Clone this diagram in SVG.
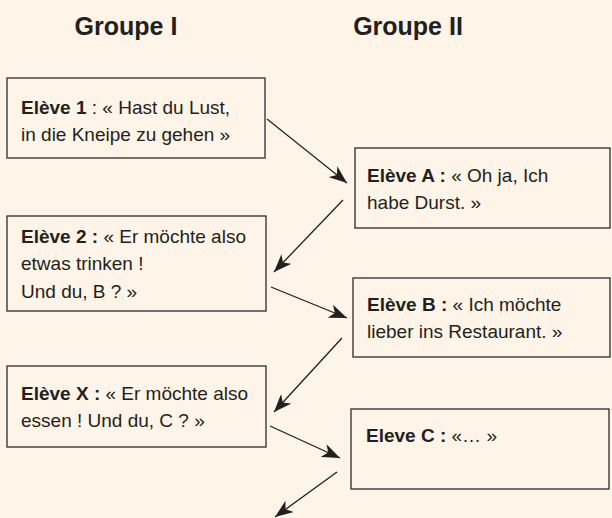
<svg xmlns="http://www.w3.org/2000/svg" width="612" height="518" viewBox="0 0 612 518">
<style>
.bg{fill:#FEF4E7}
.box{fill:none;stroke:#2b2b2b;stroke-width:1.3}
text{font-family:"Liberation Sans",Arial,sans-serif;fill:#231F20}
.t{font-size:19px}
.b{font-weight:bold}
.title{font-size:25px;font-weight:bold;text-anchor:middle}
.con{stroke:#231F20;stroke-width:1.3;fill:none;marker-end:url(#ah)}
</style>
<defs>
<marker id="ah" markerUnits="userSpaceOnUse" markerWidth="20" markerHeight="14" refX="18" refY="7" orient="auto">
<path d="M0,0 L18,7 L0,14 L5,7 Z" fill="#231F20"/>
</marker>
</defs>
<rect class="bg" x="0" y="0" width="612" height="518"/>
<g id="titles">
<text class="title" x="126" y="35">Groupe I</text>
<text class="title" x="408" y="35">Groupe II</text>
</g>
<g id="eleve1">
<rect class="box" x="7" y="78" width="258" height="80"/>
<text class="t" x="21" y="114"><tspan class="b">Elève 1</tspan> : « Hast du Lust,</text>
<text class="t" x="21" y="141">in die Kneipe zu gehen »</text>
</g>
<g id="eleve2">
<rect class="box" x="7" y="216" width="259" height="95"/>
<text class="t" x="21" y="243"><tspan class="b">Elève 2 :</tspan> « Er möchte also</text>
<text class="t" x="21" y="270">etwas trinken !</text>
<text class="t" x="21" y="298">Und du, B ? »</text>
</g>
<g id="eleveX">
<rect class="box" x="7" y="366" width="259" height="81"/>
<text class="t" x="21" y="400"><tspan class="b">Elève X :</tspan> « Er möchte also</text>
<text class="t" x="21" y="427">essen ! Und du, C ? »</text>
</g>
<g id="eleveA">
<rect class="box" x="355" y="148" width="255" height="80"/>
<text class="t" x="367" y="182"><tspan class="b">Elève A :</tspan> « Oh ja, Ich</text>
<text class="t" x="367" y="209">habe Durst. »</text>
</g>
<g id="eleveB">
<rect class="box" x="353" y="278" width="257" height="79"/>
<text class="t" x="367" y="311"><tspan class="b">Elève B :</tspan> « Ich möchte</text>
<text class="t" x="367" y="338">lieber ins Restaurant. »</text>
</g>
<g id="eleveC">
<rect class="box" x="351" y="409" width="258" height="80"/>
<text class="t" x="366" y="442"><tspan class="b">Eleve C :</tspan> «… »</text>
</g>
<g id="connectors">
<line class="con" x1="267" y1="119" x2="347" y2="183"/>
<line class="con" x1="343" y1="200" x2="274" y2="272"/>
<line class="con" x1="271" y1="287" x2="347" y2="318"/>
<line class="con" x1="342" y1="338" x2="274" y2="412"/>
<line class="con" x1="270" y1="426" x2="340" y2="458"/>
<line class="con" x1="337" y1="472" x2="275" y2="517"/>
</g>
</svg>
